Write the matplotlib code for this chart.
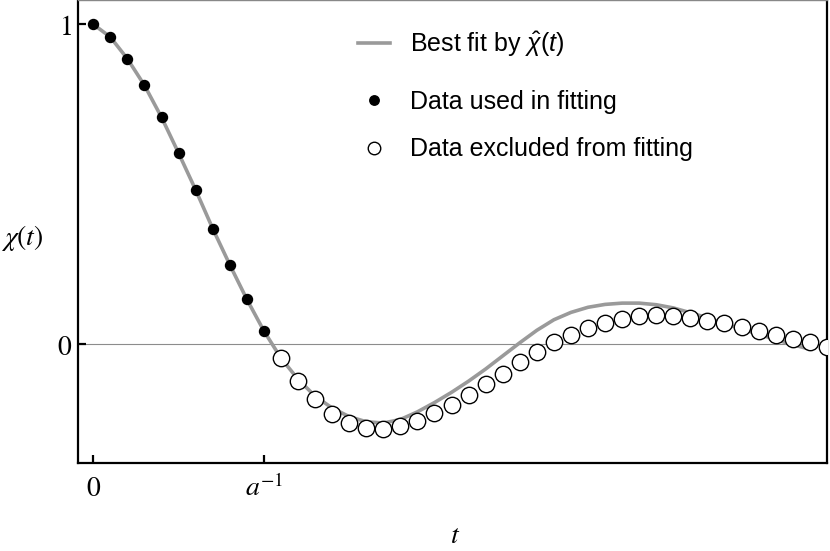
import matplotlib
matplotlib.use("Agg")
import matplotlib.pyplot as plt
from matplotlib.lines import Line2D
from matplotlib.font_manager import FontProperties

# ---- data ----
t_used = [0.0, 0.1, 0.2, 0.3, 0.4, 0.5, 0.6, 0.7, 0.8, 0.9, 1.0]
chi_used = [1.000, 0.960, 0.892, 0.809, 0.709, 0.597, 0.482, 0.361, 0.248, 0.140, 0.041]

t_excl = [1.1, 1.2, 1.3, 1.4, 1.5, 1.6, 1.7, 1.8, 1.9, 2.0, 2.1, 2.2, 2.3, 2.4, 2.5,
          2.6, 2.7, 2.8, 2.9, 3.0, 3.1, 3.2, 3.3, 3.4, 3.5, 3.6, 3.7, 3.8, 3.9, 4.0,
          4.1, 4.2, 4.3]
chi_excl = [-0.045, -0.116, -0.173, -0.218, -0.247, -0.262, -0.266, -0.257, -0.240,
            -0.217, -0.191, -0.159, -0.125, -0.094, -0.055, -0.024, 0.005, 0.028,
            0.049, 0.067, 0.078, 0.089, 0.092, 0.089, 0.082, 0.073, 0.065, 0.054,
            0.041, 0.028, 0.016, 0.005, -0.008]

t_fit = [0.0, 0.1, 0.2, 0.3, 0.4, 0.5, 0.6, 0.7, 0.8, 0.9, 1.0, 1.1, 1.2, 1.3, 1.4,
         1.5, 1.6, 1.7, 1.8, 1.9, 2.0, 2.1, 2.2, 2.3, 2.4, 2.5, 2.6, 2.7, 2.8, 2.9,
         3.0, 3.1, 3.2, 3.3, 3.4, 3.5, 3.6, 3.7, 3.8, 3.9, 4.0, 4.1, 4.2]
chi_fit = [1.000, 0.960, 0.892, 0.809, 0.709, 0.597, 0.482, 0.361, 0.248, 0.140, 0.041,
           -0.044, -0.110, -0.163, -0.200, -0.227, -0.243, -0.247, -0.236, -0.212,
           -0.183, -0.151, -0.116, -0.078, -0.037, 0.004, 0.043, 0.076, 0.099, 0.115,
           0.124, 0.128, 0.128, 0.123, 0.113, 0.098, 0.082, 0.064, 0.047, 0.031,
           0.014, -0.002, -0.016]

xtick_pos = [0, 1]
xtick_labels = ["$0$", "$a^{-1}$"]
ytick_pos = [0, 1]
ytick_labels = ["$0$", "$1$"]

legend_labels = [r"Best fit by $\hat{\chi}(t)$", "Data used in fitting",
                 "Data excluded from fitting"]

# ---- style ----
plt.rcParams["mathtext.fontset"] = "stix"
plt.rcParams["mathtext.rm"] = "Liberation Sans"
plt.rcParams["mathtext.it"] = "Liberation Sans:italic"
plt.rcParams["mathtext.bf"] = "Liberation Sans:bold"

W, H = 830, 551
fig = plt.figure(figsize=(W / 100, H / 100), dpi=100)
ax = fig.add_axes([78.3 / W, (H - 463) / H, (826.5 - 78.3) / W, 463 / H])

fit_color = "#9a9a9a"
ax.axhline(0, color="#8c8c8c", lw=0.8, zorder=1)
ax.plot(t_fit, chi_fit, color=fit_color, lw=2.6, zorder=2, solid_joinstyle="round",
        solid_capstyle="butt")
ax.plot(t_used, chi_used, "o", ms=7.2, color="black", zorder=3)
ax.plot(t_excl, chi_excl, "o", ms=11.8, mfc="white", mec="black", mew=1.0, zorder=3)

ax.set_xlim(-0.088, 4.298)
ax.set_ylim(-0.372, 1.076)

for s in ["left", "bottom", "right"]:
    ax.spines[s].set_linewidth(1.6)
ax.spines["top"].set_linewidth(1.0)
ax.spines["top"].set_color("#888888")

ax.set_xticks(xtick_pos)
ax.set_xticklabels(xtick_labels)
ax.set_yticks(ytick_pos)
ax.set_yticklabels(ytick_labels)
ax.tick_params(axis="both", direction="in", length=6, width=1.6, labelsize=20)
ax.tick_params(axis="y", pad=4.5)
ax.tick_params(axis="x", pad=24)
for lbl in ax.get_xticklabels():
    lbl.set_verticalalignment("baseline")

ax.set_xlabel("$t$", fontsize=20)
ax.xaxis.set_label_coords((455 - 78.3) / 748.2, (463 - 535) / 463)
ax.xaxis.label.set_verticalalignment("center")
ax.set_ylabel(r"$\chi(t)$", fontsize=20, rotation=0)
ax.yaxis.set_label_coords((22 - 78.3) / 748.2, (463 - 238) / 463)
ax.yaxis.label.set_horizontalalignment("center")
ax.yaxis.label.set_verticalalignment("center")

# ---- legend (two blocks to match the row spacing) ----
h_fit = Line2D([], [], color=fit_color, lw=2.6)
h_used = Line2D([], [], ls="none", marker="o", ms=6.8, color="black")
h_excl = Line2D([], [], ls="none", marker="o", ms=9, mfc="white", mec="black", mew=1.0)
fp = FontProperties(family="Liberation Sans", size=18)
fp.set_math_fontfamily("custom")
common = dict(prop=fp, frameon=False, loc="upper left", bbox_transform=fig.transFigure,
              borderpad=0, borderaxespad=0, handlelength=1.28, handletextpad=0.8,
              labelspacing=0.95)
leg1 = ax.legend([h_fit], legend_labels[:1], bbox_to_anchor=(358 / W, 1 - 29 / H),
                 **common)
ax.add_artist(leg1)
leg2 = ax.legend([h_used, h_excl], legend_labels[1:],
                 bbox_to_anchor=(358 / W, 1 - 89.5 / H), **common)

fig.savefig("out.png", dpi=100)
